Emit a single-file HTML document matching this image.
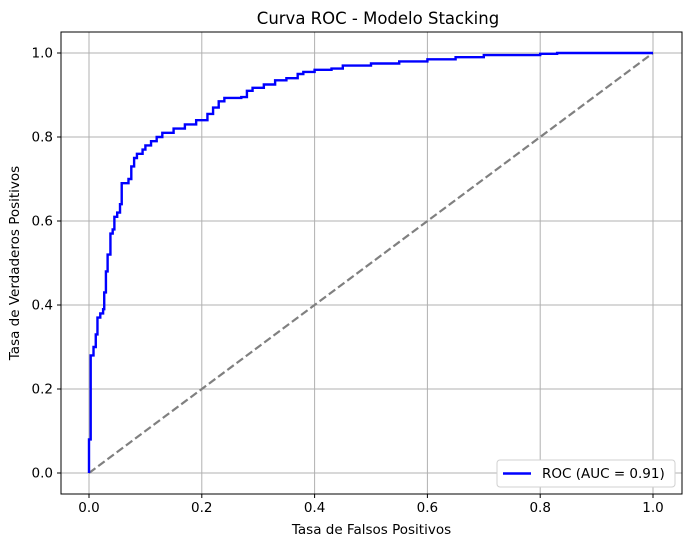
<!DOCTYPE html>
<html><head><meta charset="utf-8"><style>
body{margin:0;background:#fff;font-family:"DejaVu Sans","Liberation Sans",sans-serif}
svg text{font-family:"DejaVu Sans","Liberation Sans",sans-serif;fill:#000}
</style></head><body>
<svg id="c" width="691" height="547" viewBox="0 0 691 547"></svg>
<script>
const xTicks=[0,0.2,0.4,0.6,0.8,1.0];
const yTicks=[0,0.2,0.4,0.6,0.8,1.0];
const fpr=[0,0,0.003,0.003,0.008,0.012,0.015,0.02,0.025,0.027,0.03,0.033,0.038,0.042,0.045,0.05,0.055,0.058,0.065,0.07,0.075,0.08,0.085,0.095,0.1,0.11,0.12,0.13,0.15,0.17,0.19,0.21,0.22,0.23,0.24,0.27,0.28,0.29,0.31,0.33,0.35,0.37,0.38,0.4,0.43,0.45,0.5,0.55,0.6,0.65,0.7,0.8,0.83,1];
const tpr=[0,0.08,0.08,0.28,0.30,0.33,0.37,0.38,0.39,0.43,0.48,0.52,0.57,0.58,0.61,0.62,0.64,0.69,0.69,0.70,0.73,0.75,0.76,0.77,0.78,0.79,0.80,0.81,0.82,0.83,0.84,0.855,0.87,0.885,0.893,0.895,0.91,0.917,0.925,0.935,0.94,0.95,0.955,0.96,0.963,0.97,0.975,0.98,0.985,0.99,0.995,0.998,1,1];
const NS="http://www.w3.org/2000/svg",svg=document.getElementById('c');
const X=v=>89+v*564, Y=v=>473-v*420;
function mk(t,a,txt){const e=document.createElementNS(NS,t);for(const k in a)e.setAttribute(k,a[k]);if(txt!=null)e.textContent=txt;svg.appendChild(e);return e;}
xTicks.forEach(v=>{
 const g=mk('line',{x1:X(v),x2:X(v),y1:32,y2:494,stroke:'#b0b0b0','stroke-width':1});
 
 
 mk('line',{x1:X(v),x2:X(v),y1:494,y2:498,stroke:'#000'});
 const t=mk('text',{x:X(v),y:512,'text-anchor':'middle','font-size':'13.5'},v.toFixed(1));
 
 
});
yTicks.forEach(v=>{
 const g=mk('line',{x1:61,x2:682,y1:Y(v),y2:Y(v),stroke:'#b0b0b0','stroke-width':1});
 
 
 mk('line',{x1:57,x2:61,y1:Y(v),y2:Y(v),stroke:'#000'});
 const t=mk('text',{x:53,y:Y(v)+4.5,'text-anchor':'end','font-size':'13.5'},v.toFixed(1));
 
 
});
const d=mk('line',{x1:X(0),y1:Y(0),x2:X(1),y2:Y(1),stroke:'#808080','stroke-width':2.2,'stroke-dasharray':'8,3.5'});


let p='M'+X(fpr[0])+','+Y(tpr[0]);
for(let i=1;i<fpr.length;i++){p+=' L'+X(fpr[i])+','+Y(tpr[i-1])+' L'+X(fpr[i])+','+Y(tpr[i]);}
const r=mk('path',{d:p,fill:'none',stroke:'#0000ff','stroke-width':2.4});


const f=mk('rect',{x:61,y:32,width:621,height:462,fill:'none',stroke:'#000','stroke-width':1});


const tt=mk('text',{x:378,y:24,'text-anchor':'middle','font-size':'16.5'},'Curva ROC - Modelo Stacking');


const xl=mk('text',{x:371.5,y:534,'text-anchor':'middle','font-size':'13.5'},'Tasa de Falsos Positivos');


const yl=mk('text',{x:0,y:0,'text-anchor':'middle','font-size':'13.5',transform:'translate(19,263) rotate(-90)'},'Tasa de Verdaderos Positivos');


const lb=mk('rect',{x:497,y:460,width:178,height:27,fill:'#fff',stroke:'#d0d0d0',rx:3});


mk('line',{x1:503,x2:531,y1:473.5,y2:473.5,stroke:'#0000ff','stroke-width':2.4});
const lt=mk('text',{x:542,y:478,'font-size':'13.5'},'ROC (AUC = 0.91)');


</script>
</body></html>
